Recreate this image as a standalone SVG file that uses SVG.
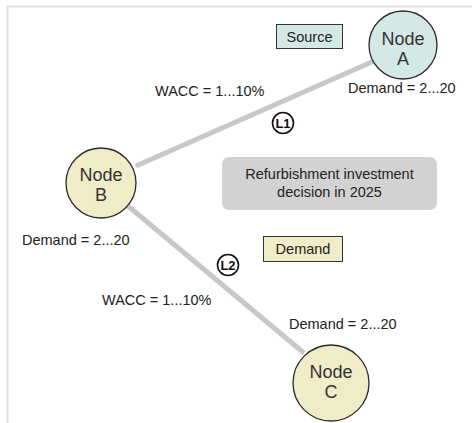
<svg xmlns="http://www.w3.org/2000/svg" width="475" height="423" viewBox="0 0 475 423">
  <style>
    text { font-family: "Liberation Sans", Arial, sans-serif; fill: #222; }
    .lbl { font-size: 14.5px; }
    .node-txt { font-size: 18px; text-anchor: middle; fill: #333; }
    .link { stroke: #c8c8c8; stroke-width: 5; fill: none; }
    .node { stroke: #2a2a2a; stroke-width: 1.3; }
    .tag circle { fill: #ffffff; stroke: #111; stroke-width: 1.6; }
    .tag text { font-size: 13px; font-weight: bold; text-anchor: middle; fill: #111; }
  </style>

  <rect width="475" height="423" fill="#ffffff"/>
  <!-- frame -->
  <path d="M7.5,423 V6.5 H472" fill="none" stroke="#e0e0e0" stroke-width="2"/>

  <g id="connectors">
    <line class="link" x1="374" y1="61" x2="136" y2="166"/>
    <line class="link" x1="128" y1="206" x2="304" y2="353"/>
  </g>

  <g id="legend-source">
    <rect x="276.5" y="24.5" width="66" height="24" fill="#d4e9e6" stroke="#333" stroke-width="1"/>
    <text class="lbl" x="309.5" y="41.5" text-anchor="middle">Source</text>
  </g>

  <g id="legend-demand">
    <rect x="263.5" y="236.5" width="79" height="25" fill="#f0ecc8" stroke="#333" stroke-width="1"/>
    <text class="lbl" x="303" y="254" text-anchor="middle">Demand</text>
  </g>

  <g id="decision-note">
    <rect x="222" y="157" width="215" height="53" rx="7" fill="#d2d2d2"/>
    <text class="lbl" x="329.5" y="179" text-anchor="middle">Refurbishment investment</text>
    <text class="lbl" x="329.5" y="197" text-anchor="middle">decision in 2025</text>
  </g>

  <g id="node-a">
    <circle class="node" cx="403" cy="45" r="34" fill="#d4e9e6"/>
    <text class="node-txt" x="403" y="45">Node</text>
    <text class="node-txt" x="403" y="65">A</text>
    <text class="lbl" x="348" y="93">Demand = 2...20</text>
  </g>

  <g id="node-b">
    <circle class="node" cx="101" cy="183" r="35" fill="#f0ecc8"/>
    <text class="node-txt" x="101" y="181">Node</text>
    <text class="node-txt" x="101" y="201">B</text>
    <text class="lbl" x="22" y="245">Demand = 2...20</text>
  </g>

  <g id="node-c">
    <circle class="node" cx="331" cy="383" r="38" fill="#f0ecc8"/>
    <text class="node-txt" x="331" y="378">Node</text>
    <text class="node-txt" x="331" y="398">C</text>
    <text class="lbl" x="289" y="329">Demand = 2...20</text>
  </g>

  <g id="link-l1" class="tag">
    <circle cx="283" cy="123" r="10.5"/>
    <text x="283" y="127.5">L1</text>
    <text class="lbl" x="155" y="96" style="font-weight:normal;text-anchor:start;font-size:14.5px;fill:#222">WACC = 1...10%</text>
  </g>

  <g id="link-l2" class="tag">
    <circle cx="228" cy="265" r="10.5"/>
    <text x="228" y="269.5">L2</text>
    <text class="lbl" x="102" y="305" style="font-weight:normal;text-anchor:start;font-size:14.5px;fill:#222">WACC = 1...10%</text>
  </g>
</svg>
